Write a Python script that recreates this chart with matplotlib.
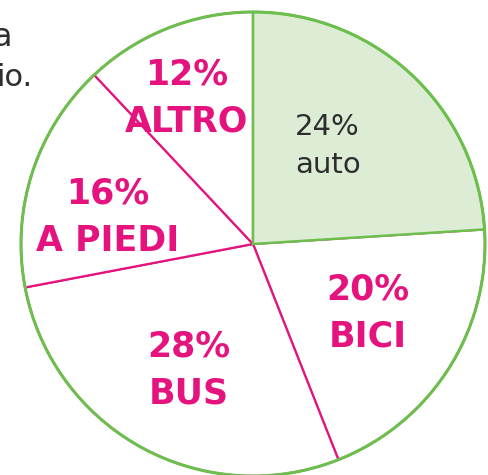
import matplotlib.pyplot as plt
from matplotlib.patches import Circle

# share of trips by mode, clockwise from the top
modes = ["auto", "BICI", "BUS", "A PIEDI", "ALTRO"]
shares = [24, 20, 28, 16, 12]

# label anchors in pixel coordinates (x, y down)
label_pos = {
    "BICI": (368, 313),
    "BUS": (189, 370),
    "A PIEDI": (108, 217),
    "ALTRO": (187, 98),
}

GREEN = "#6cbf4c"
FILL = "#ddedd5"
MAGENTA = "#e5137e"
GRAY = "#2e2e2e"

fig = plt.figure(figsize=(4.89, 4.75), dpi=100)
ax = fig.add_axes([0, 0, 1, 1])

center = (253, 244)
radius = 232

# y axis is flipped, so counterclock=True runs clockwise on screen
wedges, _ = ax.pie(shares, startangle=-90, counterclock=True,
                   center=center, radius=radius, frame=True,
                   colors=["white"] * len(shares),
                   wedgeprops=dict(edgecolor=MAGENTA, linewidth=1.6))
ax.set_xlim(0, 489)
ax.set_ylim(475, 0)
ax.set_aspect("equal")
ax.axis("off")

# the "auto" slice is highlighted in green
wedges[0].set_facecolor(FILL)
wedges[0].set_edgecolor(GREEN)
wedges[0].set_linewidth(1.8)
wedges[0].set_zorder(3)

ax.add_patch(Circle(center, radius, fill=False, edgecolor=GREEN,
                    linewidth=2.2, zorder=4))

for mode, share in zip(modes[1:], shares[1:]):
    x, y = label_pos[mode]
    ax.text(x, y, f"{share}%\n{mode}", ha="center", va="center",
            color=MAGENTA, fontsize=25, fontweight="bold",
            linespacing=1.5, zorder=5)

ax.text(295, 146, f"{shares[0]}%\n{modes[0]}", ha="left", va="center",
        color=GRAY, fontsize=21, linespacing=1.45, zorder=5)

# cut-off text from the page beside the chart
ax.text(-8, 38, "a", ha="left", va="center", color=GRAY, fontsize=23)
ax.text(-4, 77, "io.", ha="left", va="center", color=GRAY, fontsize=22)

fig.savefig("out.png", dpi=100)
